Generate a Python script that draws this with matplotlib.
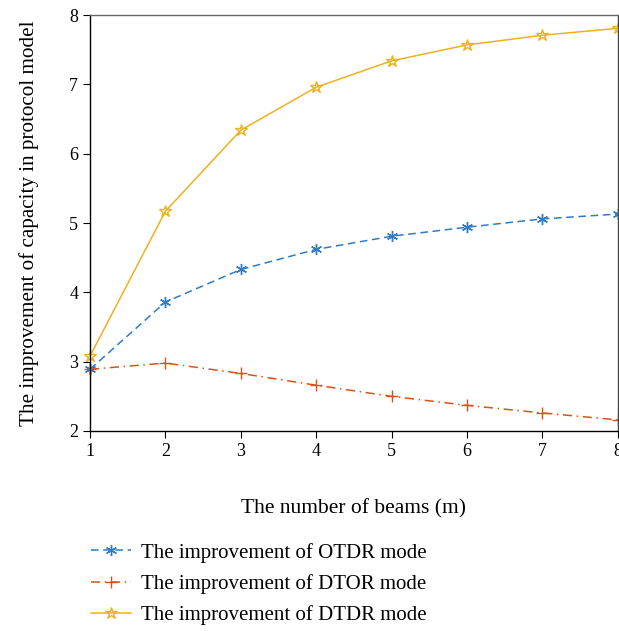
import matplotlib
matplotlib.use("Agg")
import matplotlib.pyplot as plt

plt.rcParams["font.family"] = ["Liberation Serif", "DejaVu Serif"]

beams = [1, 2, 3, 4, 5, 6, 7, 8]
otdr = [2.89, 3.86, 4.33, 4.62, 4.81, 4.94, 5.06, 5.13]
dtor = [2.89, 2.98, 2.83, 2.66, 2.50, 2.37, 2.26, 2.16]
dtdr = [3.08, 5.17, 6.34, 6.96, 7.34, 7.57, 7.71, 7.81]

labels = [
    "The improvement of OTDR mode",
    "The improvement of DTOR mode",
    "The improvement of DTDR mode",
]

BLUE = "#2f7bc8"
ORANGE = "#d95319"
YELLOW = "#edb120"

fig = plt.figure(figsize=(6.19, 6.31), dpi=100)
ax = fig.add_axes([0.1454, 0.317, 0.8526, 0.659])

l1, = ax.plot(beams, otdr, color=BLUE, linestyle=(0, (5, 3)), linewidth=1.1,
              marker=(6, 2, 0), markersize=8, markeredgewidth=1.0, clip_on=False)
l2, = ax.plot(beams, dtor, color=ORANGE, linestyle=(0, (6, 3, 1, 3)), linewidth=1.1,
              marker="+", markersize=9, markeredgewidth=1.0, clip_on=False)
l3, = ax.plot(beams, dtdr, color=YELLOW, linestyle="-", linewidth=1.1,
              marker="*", markersize=9, markerfacecolor="none",
              markeredgewidth=1.0, clip_on=False)

ax.set_xlim(1, 8)
ax.set_ylim(2, 8)
ax.set_xticks(beams)
ax.set_yticks([2, 3, 4, 5, 6, 7, 8])
ax.tick_params(direction="out", length=5, labelsize=13)
for s in ax.spines.values():
    s.set_linewidth(1.0)
ax.spines["top"].set_color("#666666")
ax.spines["right"].set_color("#444444")

ax.set_xlabel("The number of beams (m)", fontsize=15.5, labelpad=28)
ax.set_ylabel("The improvement of capacity in protocol model", fontsize=15.2, labelpad=22)

fig.legend([l1, l2, l3], labels, loc="upper left", bbox_to_anchor=(0.134, 0.153),
           frameon=False, fontsize=15, handlelength=1.9, labelspacing=0.55,
           handletextpad=0.5, borderaxespad=0)

fig.savefig("out.png", dpi=100)
